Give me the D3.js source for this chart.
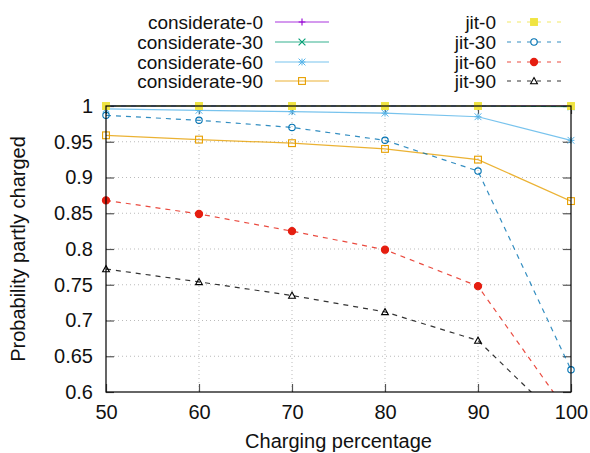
<!DOCTYPE html>
<html>
<head>
<meta charset="utf-8">
<script src="https://cdn.jsdelivr.net/npm/d3@7"></script>
<style>
body { margin: 0; background: #fff; }
text { font-family: "Liberation Sans", Arial, sans-serif; fill: #111; }
</style>
</head>
<body>
<svg id="chart" width="590" height="453"></svg>
<script>
var xs = [50, 60, 70, 80, 90, 100]
var yTicks = [0.6, 0.65, 0.7, 0.75, 0.8, 0.85, 0.9, 0.95, 1]

var considerate0 = [1, 1, 1, 1, 1, 1]
var considerate30 = [1, 1, 1, 1, 1, 0.999]
var considerate60 = [0.996, 0.994, 0.992, 0.990, 0.985, 0.952]
var considerate90 = [0.959, 0.953, 0.948, 0.940, 0.925, 0.867]
var jit0 = [1, 1, 1, 1, 1, 1]
var jit30 = [0.987, 0.980, 0.970, 0.952, 0.909, 0.631]
var jit60 = [0.868, 0.849, 0.825, 0.799, 0.748, 0.565]
var jit90 = [0.772, 0.754, 0.735, 0.712, 0.672, 0.546]

var SERIES = [
	{name: "considerate-0", vals: considerate0, color: "#9400d3", pt: "plus", dash: null},
	{name: "considerate-30", vals: considerate30, color: "#009e73", pt: "cross", dash: null},
	{name: "considerate-60", vals: considerate60, color: "#56b4e9", pt: "star", dash: null},
	{name: "considerate-90", vals: considerate90, color: "#e69f00", pt: "osquare", dash: null},
	{name: "jit-0", vals: jit0, color: "#f0e442", pt: "fsquare", dash: "5,5"},
	{name: "jit-30", vals: jit30, color: "#0072b2", pt: "ocircle", dash: "5,5"},
	{name: "jit-60", vals: jit60, color: "#e51e10", pt: "fcircle", dash: "5,5"},
	{name: "jit-90", vals: jit90, color: "#000000", pt: "otri", dash: "5,5"}
]

var W = 590, H = 453
var L = 106, R = 571, T = 106, B = 392
var FS = 20
var LEG_FS = 19

var svg = d3.select("#chart")
var x = d3.scaleLinear().domain([50, 100]).range([L, R])
var y = d3.scaleLinear().domain([0.6, 1]).range([B, T])

// grid
var grid = svg.append("g")
grid.selectAll(".gx").data(xs.slice(1, -1)).enter().append("line")
	.attr("x1", d => x(d)).attr("x2", d => x(d))
	.attr("y1", T).attr("y2", B)
	.attr("stroke", "#bbb").attr("stroke-width", 1).attr("stroke-dasharray", "1,3")
grid.selectAll(".gy").data(yTicks.slice(1, -1)).enter().append("line")
	.attr("x1", L).attr("x2", R)
	.attr("y1", d => y(d)).attr("y2", d => y(d))
	.attr("stroke", "#bbb").attr("stroke-width", 1).attr("stroke-dasharray", "1,3")

// axes with inward mirrored ticks
var fmt = d => String(+d.toFixed(2))
var axL = svg.append("g").attr("transform", "translate(" + L + ",0)")
	.call(d3.axisLeft(y).tickValues(yTicks).tickFormat(fmt).tickSizeInner(-8).tickSizeOuter(0).tickPadding(13))
var axR = svg.append("g").attr("transform", "translate(" + R + ",0)")
	.call(d3.axisRight(y).tickValues(yTicks).tickFormat("").tickSizeInner(-8).tickSizeOuter(0))
var axB = svg.append("g").attr("transform", "translate(0," + B + ")")
	.call(d3.axisBottom(x).tickValues(xs).tickFormat(d3.format("d")).tickSizeInner(-8).tickSizeOuter(0).tickPadding(13))
var axT = svg.append("g").attr("transform", "translate(0," + T + ")")
	.call(d3.axisTop(x).tickValues(xs).tickFormat("").tickSizeInner(-8).tickSizeOuter(0))
;[axL, axR, axB, axT].forEach(function(a){
	a.select(".domain").remove()
	a.selectAll(".tick line").attr("stroke", "#555").attr("stroke-width", 1.2)
	a.selectAll("text").style("font-size", FS + "px").attr("fill", "#111")
})

// series
var clip = svg.append("clipPath").attr("id", "clip")
clip.append("rect").attr("x", L).attr("y", T - 1).attr("width", R - L).attr("height", B - T + 1)

var line = d3.line().x((d, i) => x(xs[i])).y(d => y(d))

function marker(g, type, cx, cy, color){
	var s = 3.4
	if(type == "plus"){
		g.append("path").attr("d", "M" + (cx - s) + "," + cy + "H" + (cx + s) + "M" + cx + "," + (cy - s) + "V" + (cy + s))
			.attr("stroke", color).attr("stroke-width", 1.1).attr("fill", "none")
	} else if(type == "cross"){
		g.append("path").attr("d", "M" + (cx - s) + "," + (cy - s) + "L" + (cx + s) + "," + (cy + s) + "M" + (cx - s) + "," + (cy + s) + "L" + (cx + s) + "," + (cy - s))
			.attr("stroke", color).attr("stroke-width", 1.1).attr("fill", "none")
	} else if(type == "star"){
		g.append("path").attr("d", "M" + (cx - s) + "," + cy + "H" + (cx + s) + "M" + cx + "," + (cy - s) + "V" + (cy + s) +
			"M" + (cx - s) + "," + (cy - s) + "L" + (cx + s) + "," + (cy + s) + "M" + (cx - s) + "," + (cy + s) + "L" + (cx + s) + "," + (cy - s))
			.attr("stroke", color).attr("stroke-width", 1).attr("fill", "none")
	} else if(type == "osquare" || type == "fsquare"){
		g.append("rect").attr("x", cx - s).attr("y", cy - s).attr("width", 2 * s).attr("height", 2 * s)
			.attr("stroke", color).attr("stroke-width", 1.1)
			.attr("fill", type == "fsquare" ? color : "none")
	} else if(type == "ocircle" || type == "fcircle"){
		g.append("circle").attr("cx", cx).attr("cy", cy).attr("r", type == "fcircle" ? 3.6 : 3.2)
			.attr("stroke", color).attr("stroke-width", 1.1)
			.attr("fill", type == "fcircle" ? color : "none")
	} else if(type == "otri"){
		g.append("path").attr("d", "M" + cx + "," + (cy - s) + "L" + (cx + s) + "," + (cy + s * 0.8) + "L" + (cx - s) + "," + (cy + s * 0.8) + "Z")
			.attr("stroke", color).attr("stroke-width", 1.1).attr("fill", "none")
	}
}

var plot = svg.append("g")
SERIES.forEach(function(s){
	plot.append("path").datum(s.vals)
		.attr("d", line)
		.attr("clip-path", "url(#clip)")
		.attr("fill", "none")
		.attr("stroke", s.color)
		.attr("stroke-width", 1.2)
		.attr("stroke-opacity", 0.8)
		.attr("stroke-dasharray", s.dash)
	var g = plot.append("g")
	s.vals.forEach(function(v, i){
		if(v >= 0.6) marker(g, s.pt, x(xs[i]), y(v), s.color)
	})
})

// border
svg.append("rect").attr("x", L).attr("y", T).attr("width", R - L).attr("height", B - T)
	.attr("fill", "none").attr("stroke", "#000").attr("stroke-width", 1.2)

// legend
var legRows = [22, 42, 62, 81]
SERIES.forEach(function(s, i){
	var col = i < 4 ? 0 : 1
	var ly = legRows[i % 4]
	var tx = col == 0 ? 263 : 496
	var lx1 = col == 0 ? 275 : 507
	var lx2 = lx1 + 54
	svg.append("text").attr("x", tx).attr("y", ly).attr("dy", "0.35em")
		.attr("text-anchor", "end").style("font-size", LEG_FS + "px").text(s.name)
	svg.append("line").attr("x1", lx1).attr("x2", lx2).attr("y1", ly).attr("y2", ly)
		.attr("stroke", s.color).attr("stroke-width", 1.2).attr("stroke-opacity", 0.8)
		.attr("stroke-dasharray", s.dash ? "4,6" : null)
	marker(svg.append("g"), s.pt, (lx1 + lx2) / 2, ly, s.color)
})

// axis titles
svg.append("text").attr("x", (L + R) / 2).attr("y", 448)
	.attr("text-anchor", "middle").style("font-size", FS + "px").text("Charging percentage")
svg.append("text").attr("transform", "translate(25," + ((T + B) / 2) + ") rotate(-90)")
	.attr("text-anchor", "middle").style("font-size", FS + "px").text("Probability partly charged")
</script>
</body>
</html>
